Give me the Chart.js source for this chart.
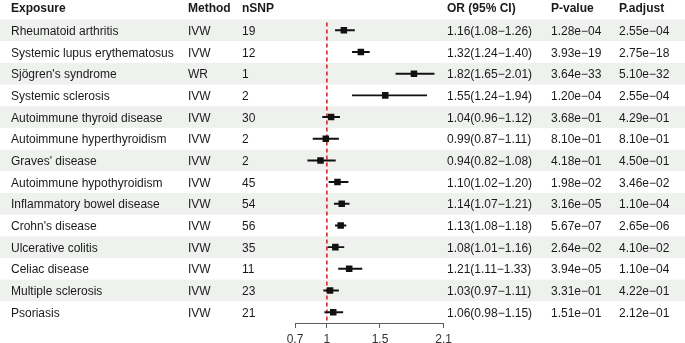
<!DOCTYPE html>
<html>
<head>
<meta charset="utf-8">
<script src="https://cdn.jsdelivr.net/npm/chart.js@4.4.1/dist/chart.umd.min.js"></script>
<style>
  body{margin:0;background:#fff;}
  canvas{display:block;}
</style>
</head>
<body>
<canvas id="forest" width="685" height="343"></canvas>
<script>
  const exposures = [
    'Rheumatoid arthritis',
    'Systemic lupus erythematosus',
    "Sjögren's syndrome",
    'Systemic sclerosis',
    'Autoimmune thyroid disease',
    'Autoimmune hyperthyroidism',
    "Graves' disease",
    'Autoimmune hypothyroidism',
    'Inflammatory bowel disease',
    "Crohn's disease",
    'Ulcerative colitis',
    'Celiac disease',
    'Multiple sclerosis',
    'Psoriasis'
  ];
  const methods = ['IVW','IVW','WR','IVW','IVW','IVW','IVW','IVW','IVW','IVW','IVW','IVW','IVW','IVW'];
  const nsnp = [19,12,1,2,30,2,2,45,54,56,35,11,23,21];
  const orValues = [1.16,1.32,1.82,1.55,1.04,0.99,0.94,1.10,1.14,1.13,1.08,1.21,1.03,1.06];
  const ciLow  = [1.08,1.24,1.65,1.24,0.96,0.87,0.82,1.02,1.07,1.08,1.01,1.11,0.97,0.98];
  const ciHigh = [1.26,1.40,2.01,1.94,1.12,1.11,1.08,1.20,1.21,1.18,1.16,1.33,1.11,1.15];
  const pValues = ['1.28e-04','3.93e-19','3.64e-33','1.20e-04','3.68e-01','8.10e-01','4.18e-01',
                   '1.98e-02','3.16e-05','5.67e-07','2.64e-02','3.94e-05','3.31e-01','1.51e-01'];
  const pAdjust = ['2.55e-04','2.75e-18','5.10e-32','2.55e-04','4.29e-01','8.10e-01','4.50e-01',
                   '3.46e-02','1.10e-04','2.65e-06','4.10e-02','1.10e-04','4.22e-01','2.12e-01'];
  const xTicks = [0.7, 1, 1.5, 2.1];

  const FONT = '"Liberation Sans", Arial, sans-serif';
  const MINUS = '\u2212';

  // table columns (left x of text)
  const columns = [
    {title:'Exposure', x:11},
    {title:'Method', x:188},
    {title:'nSNP', x:242},
    {title:'OR (95% CI)', x:447},
    {title:'P-value', x:551},
    {title:'P.adjust', x:619}
  ];

  function rowCells(i){
    let orText = orValues[i].toFixed(2) + '(' + ciLow[i].toFixed(2) + MINUS + ciHigh[i].toFixed(2) + ')';
    return [exposures[i], methods[i], String(nsnp[i]), orText,
            pValues[i].replace('-', MINUS), pAdjust[i].replace('-', MINUS)];
  }

  const tablePlugin = {
    id:'tablePlugin',
    beforeDraw(chart){
      const {ctx, scales:{y}} = chart;
      ctx.save();
      ctx.fillStyle = '#eff1ef';
      for (let i = 0; i < exposures.length; i += 2) {
        let top = y.getPixelForValue(i + 0.5);
        let bot = y.getPixelForValue(i + 1.5);
        ctx.fillRect(0, top, chart.width, bot - top);
      }
      ctx.restore();
    },
    beforeDatasetsDraw(chart){
      const {ctx, chartArea, scales:{x}} = chart;
      let xp = x.getPixelForValue(1);
      ctx.save();
      ctx.strokeStyle = '#e8211d';
      ctx.lineWidth = 1.6;
      ctx.setLineDash([4, 3]);
      ctx.beginPath();
      ctx.moveTo(xp, chartArea.top + 3);
      ctx.lineTo(xp, chartArea.bottom);
      ctx.stroke();
      ctx.restore();
    },
    afterDraw(chart){
      const {ctx, scales:{y}} = chart;
      ctx.save();
      ctx.textBaseline = 'alphabetic';
      ctx.textAlign = 'left';
      ctx.fillStyle = '#1a1a1a';
      ctx.font = 'bold 12px ' + FONT;
      columns.forEach(c => ctx.fillText(c.title, c.x, 11.5));
      ctx.font = '12px ' + FONT;
      for (let i = 0; i < exposures.length; i++) {
        let yy = y.getPixelForValue(i + 1) + 4.6;
        rowCells(i).forEach((t, k) => ctx.fillText(t, columns[k].x, yy));
      }
      ctx.restore();
    }
  };

  const ciData = exposures.map((e, i) => ({x:[ciLow[i], ciHigh[i]], y:i + 1}));
  const pointData = exposures.map((e, i) => ({x:orValues[i], y:i + 1}));

  new Chart(document.getElementById('forest'), {
    type:'scatter',
    data:{
      datasets:[
        {
          type:'bar',
          indexAxis:'y',
          data:ciData,
          backgroundColor:'#111',
          borderWidth:0,
          barThickness:1.3,
          order:2
        },
        {
          type:'scatter',
          data:pointData,
          pointStyle:'rect',
          pointRadius:4.6,
          backgroundColor:'#111',
          borderColor:'#111',
          borderWidth:0,
          order:1
        }
      ]
    },
    options:{
      responsive:false,
      animation:false,
      devicePixelRatio:1,
      layout:{padding:{left:295, right:241.3, top:19.5, bottom:0}},
      plugins:{legend:{display:false}, tooltip:{enabled:false}},
      scales:{
        x:{
          type:'linear',
          min:0.7,
          max:2.1,
          offset:false,
          afterBuildTicks(scale){ scale.ticks = xTicks.map(v => ({value:v})); },
          afterFit(scale){ scale.height = 20; },
          ticks:{
            autoSkip:false,
            maxRotation:0,
            padding:4,
            color:'#333',
            font:{family:FONT, size:12},
            callback:(v) => String(v)
          },
          grid:{drawOnChartArea:false, drawTicks:true, tickLength:5, color:'#5e5e5e', lineWidth:1, offset:false},
          border:{display:true, color:'#5e5e5e', width:1}
        },
        y:{
          type:'linear',
          display:false,
          reverse:true,
          offset:false,
          min:0.5,
          max:14.5,
          grid:{offset:false}
        }
      }
    },
    plugins:[tablePlugin]
  });
</script>
</body>
</html>
